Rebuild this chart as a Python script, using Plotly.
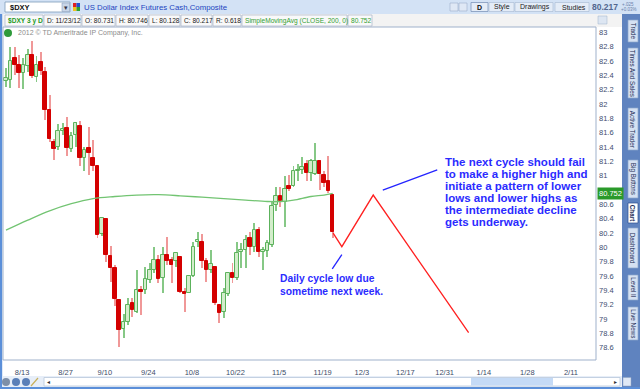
import plotly.graph_objects as go
import pandas as pd

# ---------------- data ----------------
dates = pd.bdate_range("2012-08-08", "2012-11-23", freq="C",
                       holidays=["2012-09-03", "2012-11-22"])
opens = [82.32, 82.34, 82.64, 82.55, 82.43, 82.53, 82.68, 82.37, 82.59, 82.44,
         81.92, 81.47, 81.40, 81.62, 81.67, 81.37, 81.57, 81.70, 81.24, 81.38,
         81.25, 81.14, 80.18, 80.39, 79.88, 79.71, 79.26, 78.86, 78.96, 79.22,
         79.10, 79.41, 79.40, 79.54, 79.68, 79.83, 79.57, 79.89, 79.82, 79.81,
         79.87, 79.38, 79.37, 79.60, 80.07, 80.08, 79.81, 79.69, 79.73, 79.20,
         79.10, 79.35, 79.64, 79.57, 79.94, 79.97, 80.13, 80.01, 80.24, 79.94,
         79.95, 80.03, 80.59, 80.72, 80.64, 80.86, 80.86, 81.06, 81.08, 81.16,
         81.04, 81.03, 81.20, 81.01, 80.93, 80.731]
highs = [82.50, 82.79, 82.79, 82.69, 82.64, 82.77, 82.88, 82.67, 82.72, 82.51,
         82.13, 81.51, 81.72, 81.73, 81.82, 81.61, 81.75, 81.76, 81.40, 81.68,
         81.50, 81.15, 80.43, 80.41, 80.02, 79.75, 79.28, 79.07, 79.29, 79.29,
         79.68, 79.46, 79.73, 79.78, 80.01, 79.89, 80.01, 80.15, 79.86, 79.94,
         79.88, 79.44, 79.61, 80.08, 80.21, 80.19, 79.85, 79.97, 79.74, 79.21,
         79.43, 79.66, 79.78, 80.08, 80.06, 80.17, 80.22, 80.34, 80.29, 80.01,
         80.10, 80.64, 80.84, 80.84, 80.99, 81.01, 81.14, 81.17, 81.26, 81.22,
         81.23, 81.46, 81.22, 81.07, 81.27, 80.746]
lows = [82.24, 82.23, 82.41, 82.22, 82.21, 82.45, 82.36, 82.31, 82.40, 81.78,
        81.47, 81.22, 81.36, 81.57, 81.28, 81.33, 81.40, 81.13, 81.06, 81.01,
        81.06, 80.13, 80.16, 79.80, 79.52, 79.18, 78.61, 78.73, 78.92, 79.03,
        79.08, 79.06, 79.35, 79.50, 79.64, 79.50, 79.37, 79.75, 79.50, 79.73,
        79.36, 79.10, 79.36, 79.59, 80.01, 79.71, 79.52, 79.64, 79.20, 78.95,
        79.01, 79.32, 79.50, 79.55, 79.71, 79.71, 79.89, 79.93, 79.87, 79.68,
        79.87, 80.01, 80.51, 80.56, 80.29, 80.78, 80.84, 80.92, 81.03, 80.92,
        80.92, 81.01, 80.80, 80.84, 80.76, 80.128]
closes = [82.36, 82.60, 82.55, 82.43, 82.55, 82.69, 82.39, 82.54, 82.46, 81.92,
          81.51, 81.37, 81.62, 81.65, 81.39, 81.56, 81.73, 81.25, 81.36, 81.31,
          81.14, 80.17, 80.41, 79.89, 79.71, 79.28, 78.85, 78.96, 79.20, 79.13,
          79.40, 79.38, 79.56, 79.68, 79.83, 79.56, 79.89, 79.81, 79.75, 79.92,
          79.38, 79.35, 79.60, 80.00, 80.10, 79.81, 79.69, 79.77, 79.23, 79.09,
          79.36, 79.64, 79.57, 79.92, 79.97, 80.10, 80.01, 80.24, 79.94, 79.97,
          80.06, 80.58, 80.72, 80.65, 80.82, 80.82, 81.07, 81.08, 81.12, 81.04,
          81.20, 81.20, 81.03, 80.90, 80.78, 80.217]

# SimpleMovingAvg(CLOSE, 200) read at bar indices
ma_idx = [0, 5, 10, 15, 20, 25, 30, 35, 40, 45, 50, 55, 60, 63, 66, 70, 73, 75]
ma_val = [80.24, 80.38, 80.51, 80.61, 80.68, 80.71, 80.73, 80.735, 80.72, 80.70,
          80.68, 80.66, 80.64, 80.64, 80.66, 80.71, 80.73, 80.752]

# hand-drawn projection (bar index, price)
proj_idx = [75.1, 77.1, 84.3, 106.2]
proj_val = [80.20, 80.01, 80.73, 78.81]
note1_idx = [74.9, 77.1]
note1_val = [79.70, 79.90]
note2_idx = [86.5, 99.0]
note2_val = [80.80, 81.08]

xtick_idx = [3, 13, 22, 32, 42, 52, 62, 72, 81, 91, 100, 109, 119, 129]
xtick_txt = ["8/13", "8/27", "9/10", "9/24", "10/8", "10/22", "11/5", "11/19",
             "12/3", "12/17", "12/31", "1/14", "1/28", "2/11"]
ytick_val = [round(78.6 + 0.2 * i, 1) for i in range(23)]
# the 80.8 label sits under the current-value tag, as in the original
ytick_txt = [("" if v == 80.8 else "%g" % v) for v in ytick_val]

# ---------------- figure ----------------
FONT = "Liberation Sans, Arial, sans-serif"
W, H = 640, 389
L, R, T, B = 3, 596, 27, 360

k = list(range(len(dates)))
up = [c >= o for o, c in zip(opens, closes)]

fig = go.Figure()

# wicks (thin bars)
fig.add_trace(go.Bar(
    x=k, base=lows, y=[h - l for h, l in zip(highs, lows)], width=0.22,
    marker=dict(color=["#86c886" if u else "#f09898" for u in up], line=dict(width=0)),
    hoverinfo="skip"))
# bodies
fig.add_trace(go.Bar(
    x=k, base=[min(o, c) for o, c in zip(opens, closes)],
    y=[max(abs(c - o), 0.015) for o, c in zip(opens, closes)], width=0.82,
    marker=dict(color=["#d3edcb" if u else "#d40000" for u in up],
                line=dict(color=["#5cb25c" if u else "#d40000" for u in up], width=1)),
    hoverinfo="skip"))

fig.add_trace(go.Scatter(x=ma_idx, y=ma_val, mode="lines",
                         line=dict(color="#72c472", width=1.3, shape="spline"), hoverinfo="skip"))
fig.add_trace(go.Scatter(x=proj_idx, y=proj_val, mode="lines",
                         line=dict(color="#ff2020", width=1.3), hoverinfo="skip"))
fig.add_trace(go.Scatter(x=note1_idx, y=note1_val, mode="lines",
                         line=dict(color="#2424ff", width=1.3), hoverinfo="skip"))
fig.add_trace(go.Scatter(x=note2_idx, y=note2_val, mode="lines",
                         line=dict(color="#2424ff", width=1.3), hoverinfo="skip"))

x0 = (L - 6) / 4.356
x1 = (R - 6) / 4.356
y_top = 83 + (32.3 - T) / 71.7
y_bot = 83 - (B - 32.3) / 71.7

fig.update_layout(
    width=W, height=H, margin=dict(l=L, r=W - R, t=T, b=H - B, pad=0),
    paper_bgcolor="white", plot_bgcolor="white", showlegend=False,
    barmode="overlay", bargap=0,
    font=dict(family=FONT),
    xaxis=dict(range=[x0, x1], showgrid=False, zeroline=False, showline=False,
               tickmode="array", tickvals=xtick_idx, ticktext=xtick_txt, ticks="",
               tickfont=dict(size=7.5, color="#3d4c68", family=FONT),
               ticklabelstandoff=6, ticklabelshift=3, fixedrange=True),
    yaxis=dict(range=[y_bot, y_top], side="right", showgrid=False, zeroline=False,
               showline=False, tickmode="array", tickvals=ytick_val, ticktext=ytick_txt,
               ticks="", tickfont=dict(size=7.5, color="#3d4c70", family=FONT),
               ticklabelstandoff=2, fixedrange=True),
)

shapes = []
annos = []


def px(x):
    return (x - L) / (R - L)


def py(y):
    return (B - y) / (B - T)


def rect(xa, ya, xb, yb, fill, line=None, lw=1):
    shapes.append(dict(type="rect", xref="paper", yref="paper",
                       x0=px(xa), x1=px(xb), y0=py(yb), y1=py(ya),
                       fillcolor=fill, layer="above",
                       line=dict(color=line if line else fill, width=lw if line else 0)))


def txt(x, y, s, size=7, color="#222222", xanchor="left", bold=False, angle=0,
        family=FONT):
    if bold:
        s = "<b>" + s + "</b>"
    annos.append(dict(xref="paper", yref="paper", x=px(x), y=py(y), text=s, showarrow=False,
                      xanchor=xanchor, yanchor="middle", textangle=angle,
                      font=dict(size=size, color=color, family=family)))


# window frame pieces
rect(0, 0, 640, 14, "#d3e2f5")                     # top bar
rect(0, 14, 622, 27, "#f3f3f3")                    # info bar
rect(0, 14, 2.2, 389, "#5b8fd9")                   # left blue border
rect(622, 14, 640, 389, "#5f83bf")                 # right tab strip
rect(2.2, 376, 622, 387, "#e7eef8")                # bottom toolbar
rect(0, 387, 640, 389, "#5b8fd9")                  # bottom border
rect(44, 377.5, 620, 386, "#ffffff", "#b8c6da", 0.8)  # scroll track
rect(471, 378, 553, 385.5, "#c4daf6")              # scroll thumb

# plot border
shapes.append(dict(type="rect", xref="paper", yref="paper", x0=0, x1=1, y0=0, y1=1,
                   line=dict(color="#9fb1cb", width=1), layer="above"))

# top bar contents
rect(5, 2, 70, 12, "#ffffff", "#7f9db9", 0.8)
rect(62, 3, 69.5, 11.5, "#c9d6e8", "#8ea3c0", 0.6)
txt(65.8, 7, "▾", size=7, color="#334", xanchor="center")
txt(8, 7.2, "$DXY", size=7.5, color="#111111", bold=True)
rect(73, 3, 76.5, 7, "#e02020")
rect(76.5, 3, 80, 7, "#2050d0")
rect(73, 7, 76.5, 11, "#f0c020")
rect(76.5, 7, 80, 11, "#30a030")
txt(81.5, 7.2, "US Dollar Index Futures Cash,Composite", size=7.8, color="#2244c0")

rect(450, 3, 458, 11, "#dfe8f5", "#8ea3c0", 0.5)
rect(459, 3, 467, 11, "#dfe8f5", "#8ea3c0", 0.5)
rect(471, 2.5, 488, 11.5, "#e4ecf7", "#7f97bb", 0.8)
txt(479.5, 7.2, "D", size=7, color="#111", xanchor="center", bold=True)
rect(489, 2.5, 514, 11.5, "#e4ecf7", "#a6b8d2", 0.6)
txt(501.5, 7.2, "Style", size=7, color="#1a1a1a", xanchor="center")
rect(515, 2.5, 553, 11.5, "#e4ecf7", "#a6b8d2", 0.6)
txt(535, 7.2, "Drawings", size=7, color="#1a1a1a", xanchor="center")
rect(555, 2.5, 589, 11.5, "#e4ecf7", "#a6b8d2", 0.6)
txt(574, 7.2, "Studies", size=7, color="#1a1a1a", xanchor="center")
txt(590, 7.3, "80.217", size=8.5, color="#52668f", bold=True)
txt(620, 4.2, "+.025", size=4.5, color="#6a80aa")
txt(619, 10, "+0.03%", size=4.5, color="#6a80aa")

# info bar cells
cells = [(5, 43, "$DXY 3 y D", "#1f9a1f", True),
         (44, 81, "D: 11/23/12", "#1a1a1a", False),
         (82, 115, "O: 80.731", "#1a1a1a", False),
         (116, 148, "H: 80.746", "#1a1a1a", False),
         (149, 180, "L: 80.128", "#1a1a1a", False),
         (181, 212, "C: 80.217", "#1a1a1a", False),
         (213, 241, "R: 0.618", "#1a1a1a", False),
         (242, 347, "SimpleMovingAvg (CLOSE, 200, 0)", "#33a033", False),
         (348, 372, "80.752", "#33a033", False)]
for a, b, s, col, bo in cells:
    rect(a, 15, b, 26, "#f9f9f9", "#a9b6c9", 0.7)
    txt(a + 1.4, 20.7, s, size=6.6, color=col, bold=bo)
rect(598, 16, 607, 24, "#dde6f2", "#9fb1cb", 0.5)

# copyright line
shapes.append(dict(type="circle", xref="paper", yref="paper", x0=px(4), x1=px(12),
                   y0=py(37), y1=py(29), fillcolor="#2f9a3a", line=dict(width=0),
                   layer="above"))
txt(16, 33, "2012 © TD Ameritrade IP Company, Inc.", size=7, color="#8c8c8c")

# current MA value tag on price axis
annos.append(dict(xref="paper", yref="y", x=px(597), y=80.752, text="80.752",
                  showarrow=False, xanchor="left", yanchor="middle", bgcolor="#2a9a2a",
                  borderpad=1, font=dict(size=7.5, color="white", family=FONT)))

# right tab strip
tabs = [("Trade", 20, 42, False), ("Times And Sales", 48, 98, False),
        ("Active Trader", 108, 150, False), ("Big Buttons", 160, 198, False),
        ("Chart", 203, 223, True), ("Dashboard", 228, 268, False),
        ("Level II", 275, 300, False), ("Live News", 307, 340, False)]
for name, a, b, sel in tabs:
    rect(628, a, 638, b, "#ffffff" if sel else "#d5e1f2", "#2d4f8f" if sel else "#8ea6cc", 0.7)
    txt(633.2, (a + b) / 2, name, size=6.3, color="#1c2c55", xanchor="center", angle=90,
        bold=sel)

# bottom toolbar icons
for cx, col in [(6, "#7d8fa8"), (16, "#5a7fb8"), (26, "#5a7fb8")]:
    shapes.append(dict(type="circle", xref="paper", yref="paper", x0=px(cx - 4), x1=px(cx + 4),
                       y0=py(386), y1=py(378), fillcolor=col, line=dict(width=0),
                       layer="above"))
shapes.append(dict(type="line", xref="paper", yref="paper", x0=px(31), x1=px(38),
                   y0=py(386), y1=py(378), line=dict(color="#c9b05a", width=1.2),
                   layer="above"))
txt(45, 381.8, "◂", size=6, color="#333")
txt(612, 381.8, "▸", size=6, color="#333")
rect(623, 377.5, 631, 386, "#dfe8f5", "#8ea3c0", 0.5)

# blue hand-written notes
note1 = ["Daily cycle low due", "sometime next week."]
for i, s in enumerate(note1):
    txt(277.5, 278.8 + 13 * i, s, size=10.3, color="#2b2bff", bold=True)
note2 = ["The next cycle should fail", "to make a higher high and",
         "initiate a pattern of lower", "lows and lower highs as",
         "the intermediate decline", "gets underway."]
for i, s in enumerate(note2):
    txt(442.5, 162.3 + 11.9 * i, s, size=11.5, color="#2b2bff", bold=True)

fig.update_layout(shapes=shapes, annotations=annos)
fig.write_html("out.html")
